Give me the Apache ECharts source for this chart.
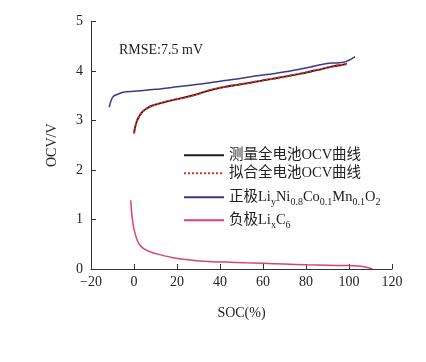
<!DOCTYPE html>
<html>
<head>
<meta charset="utf-8">
<script src="https://cdn.jsdelivr.net/npm/echarts@6/dist/echarts.min.js"></script>
<style>html,body{margin:0;padding:0;background:#fff;}#c{width:426px;height:362px;}</style>
</head>
<body>
<div id="c"></div>
<script>
var xTicks = [-20, 0, 20, 40, 60, 80, 100, 120];
var yTicks = [0, 1, 2, 3, 4, 5];

var measSOC = [0, 0.5, 1.2, 2, 2.8, 4, 5.5, 7.4, 10, 15, 20, 25, 30.7, 36, 42.3, 48, 55, 60, 65.6, 72, 78, 83, 87.3, 92, 97.4, 99];
var measOCV = [2.74, 2.86, 2.97, 3.05, 3.11, 3.18, 3.23, 3.28, 3.32, 3.38, 3.43, 3.48, 3.55, 3.62, 3.68, 3.72, 3.77, 3.81, 3.85, 3.90, 3.95, 4.00, 4.04, 4.09, 4.13, 4.15];
var fitOCV = measOCV.slice();

var posSOC = [-11.5, -11, -10.3, -9.5, -8.8, -7, -5, 0, 10, 20, 30, 42.3, 48, 55, 65.6, 75, 82, 87.3, 92, 96.6, 99, 101, 102.8];
var posOCV = [3.27, 3.36, 3.44, 3.49, 3.51, 3.54, 3.57, 3.59, 3.63, 3.68, 3.73, 3.81, 3.84, 3.89, 3.95, 4.02, 4.08, 4.13, 4.16, 4.17, 4.20, 4.24, 4.29];

var negSOC = [-1.5, -1.2, -0.8, -0.2, 0.5, 1.5, 2.8, 4.5, 7.4, 12, 19, 26, 34.6, 43, 51.6, 60, 70, 80, 90, 100, 104, 107, 109, 111];
var negOCV = [1.39, 1.20, 1.02, 0.85, 0.72, 0.58, 0.48, 0.41, 0.35, 0.29, 0.22, 0.18, 0.15, 0.14, 0.125, 0.115, 0.10, 0.085, 0.075, 0.07, 0.06, 0.045, 0.025, 0.0];

var names = ['测量全电池OCV曲线', '拟合全电池OCV曲线', '正极LiyNi0.8Co0.1Mn0.1O2', '负极LixC6'];
var rmseText = 'RMSE:7.5 mV';

function pairs(xs, ys) { return xs.map(function (x, i) { return [x, ys[i]]; }); }

var SERIF = '"Liberation Serif", "Times New Roman", "Noto Sans CJK SC", serif';
var rich = {
  a: { fontFamily: SERIF, fontSize: 14.5, color: '#222', lineHeight: 20, verticalAlign: 'middle' },
  s: { fontFamily: SERIF, fontSize: 10, color: '#222', lineHeight: 20, verticalAlign: 'bottom' }
};
function fmt(name) {
  if (name === names[2]) {
    return '{a|正极Li}{s|y}{a|Ni}{s|0.8}{a|Co}{s|0.1}{a|Mn}{s|0.1}{a|O}{s|2}';
  }
  if (name === names[3]) {
    return '{a|负极Li}{s|x}{a|C}{s|6}';
  }
  return '{a|' + name + '}';
}
function mkLegend(name, top) {
  return {
    data: [name], left: 183, top: top, itemWidth: 40, itemHeight: 14, itemGap: 0,
    padding: 0, formatter: fmt, selectedMode: false,
    itemStyle: { opacity: 0 },
    textStyle: { rich: rich, fontFamily: SERIF, fontSize: 14.5, color: '#222' }
  };
}

var chart = echarts.init(document.getElementById('c'), null, { renderer: 'canvas' });
chart.setOption({
  animation: false,
  backgroundColor: '#fff',
  grid: { left: 91, right: 34, top: 21.5, bottom: 93, containLabel: false },
  legend: [mkLegend(names[0], 148), mkLegend(names[1], 166), mkLegend(names[2], 190), mkLegend(names[3], 213)],
  graphic: [{
    type: 'text', left: 119, top: 43,
    style: { text: rmseText, font: '14px ' + SERIF, fill: '#222' }
  }],
  xAxis: {
    type: 'value', min: xTicks[0], max: xTicks[xTicks.length - 1], interval: 20,
    name: 'SOC(%)', nameLocation: 'middle', nameGap: 37,
    nameTextStyle: { fontFamily: SERIF, fontSize: 14, color: '#222' },
    axisLine: { show: true, onZero: false, lineStyle: { color: '#333', width: 1 } },
    axisTick: { show: true, inside: true, length: 5, lineStyle: { color: '#333' } },
    axisLabel: { fontFamily: SERIF, fontSize: 14, color: '#222', margin: 6,
      formatter: function (v) { return v < 0 ? '\u2212' + Math.abs(v) : String(v); } },
    splitLine: { show: false }
  },
  yAxis: {
    type: 'value', min: yTicks[0], max: yTicks[yTicks.length - 1], interval: 1,
    name: 'OCV/V', nameLocation: 'middle', nameGap: 32,
    nameTextStyle: { fontFamily: SERIF, fontSize: 14, color: '#222' },
    axisLine: { show: true, onZero: false, lineStyle: { color: '#333', width: 1 } },
    axisTick: { show: true, inside: true, length: 5, lineStyle: { color: '#333' } },
    axisLabel: { fontFamily: SERIF, fontSize: 14, color: '#222', margin: 8 },
    splitLine: { show: false }
  },
  series: [
    { name: names[2], type: 'line', data: pairs(posSOC, posOCV), symbol: 'none', smooth: 0.3,
      lineStyle: { color: '#3b3a85', width: 1.5 }, itemStyle: { color: '#3b3a85' }, z: 2 },
    { name: names[0], type: 'line', data: pairs(measSOC, measOCV), symbol: 'none', smooth: 0.3,
      lineStyle: { color: '#1c1c1c', width: 1.8 }, itemStyle: { color: '#1c1c1c' }, z: 3 },
    { name: names[1], type: 'line', data: pairs(measSOC, fitOCV), symbol: 'none', smooth: 0.3,
      lineStyle: { color: '#e3312b', width: 2.2, type: [2, 2] }, itemStyle: { color: '#e3312b' }, z: 4 },
    { name: names[3], type: 'line', data: pairs(negSOC, negOCV), symbol: 'none', smooth: 0.3,
      lineStyle: { color: '#d8417d', width: 1.5 }, itemStyle: { color: '#d8417d' }, z: 2 }
  ]
});
</script>
</body>
</html>
